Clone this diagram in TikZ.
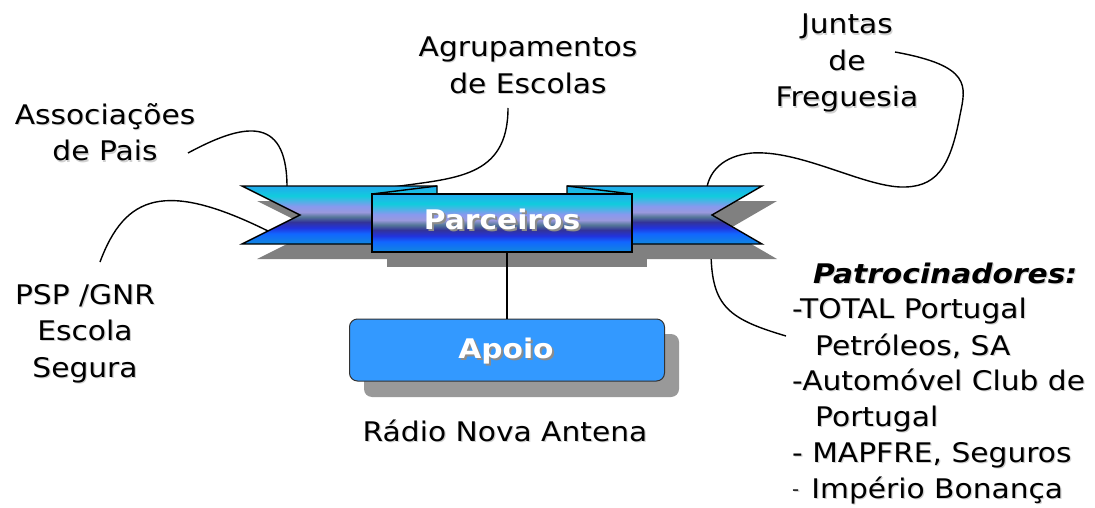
\documentclass[tikz,border=0pt]{standalone}
\usepackage{fontspec}
\setmainfont[FakeStretch=1.1]{DejaVu Sans}
\definecolor{rbA}{HTML}{22AAEE}
\definecolor{rbB}{HTML}{11CCDD}
\definecolor{rbC}{HTML}{8899EE}
\definecolor{rbD}{HTML}{9999DD}
\definecolor{rbE}{HTML}{557799}
\definecolor{rbF}{HTML}{333399}
\definecolor{rbG}{HTML}{2233DD}
\definecolor{rbH}{HTML}{1166FF}
\definecolor{rbI}{HTML}{1188DD}
\definecolor{apoiofill}{HTML}{3399FF}
% path bounding box maps to 25bp..75bp of the declared shading
\pgfdeclareverticalshading{ribbonshade}{100bp}{color(0bp)=(rbI); color(25bp)=(rbI); color(34bp)=(rbH); color(39bp)=(rbG); color(44bp)=(rbF); color(48.5bp)=(rbE); color(52.5bp)=(rbD); color(57.5bp)=(rbC); color(66.5bp)=(rbB); color(75bp)=(rbA); color(100bp)=(rbA)}
\newcommand{\txs}[1]{\makebox[0pt][l]{\kern1.2pt\raisebox{-1.2pt}{\textcolor{black!18}{#1}}}#1}
\newcommand{\wts}[1]{\makebox[0pt][l]{\kern2pt\raisebox{-2pt}{\textcolor{black!45}{#1}}}#1}
\begin{document}
\begin{tikzpicture}[x=1pt,y=-1pt,
  lbl/.style={font=\fontsize{27}{36.5}\selectfont, align=center, inner sep=0pt},
  pline/.style={font=\fontsize{27}{36.5}\selectfont, inner sep=0pt, anchor=base west},
  conn/.style={draw=black, line width=1.4pt},
  rib/.style={draw=black, line width=1.4pt, shading=ribbonshade, line join=miter},
  shad/.style={fill=black!50, draw=none},
  boldw/.style={font=\fontsize{27}{30}\selectfont\bfseries, text=white, inner sep=0pt, anchor=base}]
\useasboundingbox (0,0) rectangle (1095,508);

% labels
\node[lbl] (agr) at (528,66) {\txs{Agrupamentos}\\\txs{de Escolas}};
\node[lbl] (assoc) at (105,133) {\txs{Associações}\\\txs{de Pais}};
\node[lbl] (juntas) at (847,64) {\txs{Juntas}\\\txs{de}\\\txs{Freguesia}};
\node[lbl] (psp) at (85,334) {\txs{PSP /GNR}\\\txs{Escola}\\\txs{Segura}};
\node[lbl, anchor=base] (radio) at (505,441) {\txs{Rádio Nova Antena}};

\node[pline, font=\fontsize{27}{36.5}\selectfont\bfseries\itshape] (patr) at (813,283) {\txs{Patrocinadores:}};
\node[pline] (p1) at (792,318) {\txs{-TOTAL Portugal}};
\node[pline] (p2) at (815,355) {\txs{Petróleos, SA}};
\node[pline] (p3) at (792,390) {\txs{-Automóvel Club de}};
\node[pline] (p4) at (815,426) {\txs{Portugal}};
\node[pline] (p5) at (792,462) {\txs{- MAPFRE, Seguros}};
\node[pline] (p6) at (792,498) {\raisebox{2.5pt}{\fontsize{18}{20}\selectfont\txs{-}}\kern12pt\txs{Império Bonança}};

% connector end points
\coordinate (assocS) at (188,153);
\coordinate (assocE) at (287,187);
\coordinate (pspS) at (100,262);
\coordinate (pspE) at (268,231);
\coordinate (agrS) at (508,108);
\coordinate (agrE) at (393,187);
\coordinate (junS) at (895,52);
\coordinate (junE) at (707,187);
\coordinate (patS) at (711,243);
\coordinate (patE) at (786,336);

\draw[conn] (assocS) .. controls (240,125) and (287,112) .. (assocE);
\draw[conn] (pspS) .. controls (125,195) and (165,180) .. (pspE);
\draw[conn] (agrS) .. controls (508,178) and (455,178) .. (agrE);
\draw[conn] (junS) .. controls (972,66) and (966,86) .. (960,115)
  .. controls (950,170) and (935,188) .. (900,187)
  .. controls (860,185) and (800,150) .. (752,153)
  .. controls (722,156) and (710,172) .. (junE);
\draw[conn] (patS) .. controls (710,305) and (725,318) .. (patE);

% shadows
\fill[shad] (257,201) -- (452,201) -- (452,259) -- (257,259) -- (315,230) -- cycle;
\fill[shad] (582,201) -- (777,201) -- (727,230) -- (777,259) -- (582,259) -- cycle;
\fill[shad] (387,209) rectangle (647,267);

% ribbon bands
\path[rib] (242,186) -- (437,186) -- (437,244) -- (242,244) -- (300,215) -- cycle;
\path[rib] (567,186) -- (762,186) -- (712,215) -- (762,244) -- (567,244) -- cycle;
\draw[line width=1.4pt] (372,194) -- (437,186);
\draw[line width=1.4pt] (567,186) -- (632,194);

% centre box
\node[rib, minimum width=260pt, minimum height=58pt, inner sep=0pt] (parc) at (502,223) {};
\node[boldw] (parctext) at (502,229) {\wts{Parceiros}};

% apoio
\fill[black!40, rounded corners=8pt] (364,334) rectangle (679,397);
\node[draw=black!80, line width=1pt, fill=apoiofill, rounded corners=8pt, minimum width=315pt, minimum height=62pt, inner sep=0pt] (apoio) at (507,350) {};
\node[boldw] (apoiotext) at (506,358) {\wts{Apoio}};

\draw[conn] (apoio.north |- parc.south) -- (apoio.north);
\end{tikzpicture}
\end{document}
